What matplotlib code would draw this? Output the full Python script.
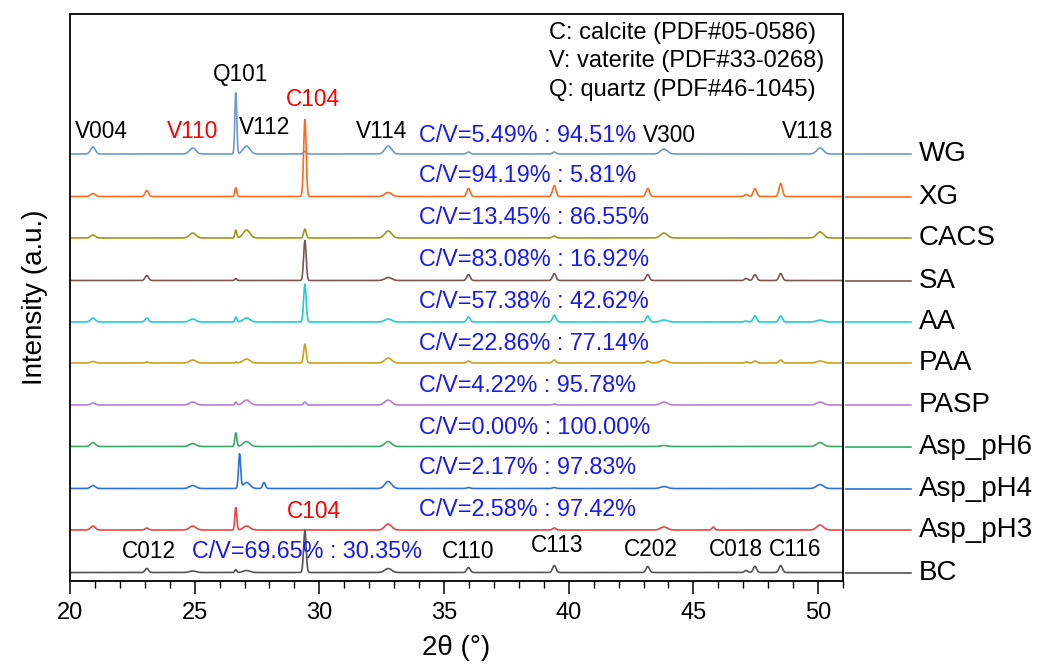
import numpy as np
import matplotlib
matplotlib.use("Agg")
import matplotlib.pyplot as plt
import matplotlib.transforms as mtransforms

plt.rcParams['font.family'] = ['Liberation Sans', 'DejaVu Sans']

# ---------------- data ----------------
series_names = ["WG", "XG", "CACS", "SA", "AA", "PAA", "PASP",
                "Asp_pH6", "Asp_pH4", "Asp_pH3", "BC"]
series_colors = ["#6C9AD0", "#FF6B1A", "#9A9A1A", "#7D5555", "#1FCFCF",
                 "#CDA020", "#B57EDC", "#3AAA6A", "#2E73D9", "#EE4444", "#555555"]
# vertical offsets of each pattern (a.u.)
series_offsets = [427, 384.5, 343, 300.5, 259, 218, 176, 134.5, 92.5, 51, 8.5]

# reflections (2theta, degrees) and their peak widths (FWHM, degrees)
refl_pos = [20.92, 23.08, 24.92, 26.65, 26.80, 27.08, 27.78, 29.42, 32.76,
            35.98, 39.42, 43.17, 43.82, 45.80, 47.12, 47.47, 48.50, 50.08]
refl_fwhm = [0.22, 0.16, 0.30, 0.09, 0.10, 0.32, 0.13, 0.12, 0.32,
             0.16, 0.16, 0.16, 0.32, 0.13, 0.16, 0.16, 0.16, 0.32]

# peak heights (a.u.) per series, aligned with refl_pos
h_WG   = [7, 0, 6, 63, 0, 8, 0, 3, 8, 2, 2, 0, 5, 0, 0, 0, 0, 6]
h_XG   = [3, 6, 0, 9, 0, 0, 0, 77, 4, 8, 11, 8, 0, 0, 2, 8, 13, 0]
h_CACS = [3, 0, 5, 8, 0, 8, 0, 9, 7, 0, 2, 0, 5, 0, 0, 0, 0, 6]
h_SA   = [0, 5, 0, 2, 0, 0, 0, 40, 3, 6, 7, 6, 0, 0, 2, 6, 7, 0]
h_AA   = [4, 4, 3, 5, 0, 4, 0, 38, 3, 5, 7, 6, 2, 0, 1, 6, 6, 2]
h_PAA  = [1.5, 1, 3, 1, 0, 4, 0, 19, 5, 2, 3, 2, 3, 0, 1, 2, 3, 2]
h_PASP = [2, 0, 3, 3, 0, 5, 0, 3, 5, 0, 1, 0, 3, 0, 0, 0, 0, 3]
h_pH6  = [4, 0, 3, 14, 0, 5, 0, 0, 5, 0, 0, 0, 1, 0, 0, 0, 0, 4]
h_pH4  = [3, 0, 3, 0, 34, 6, 6, 0, 7, 1, 1, 0, 2, 0, 0, 0, 0, 4]
h_pH3  = [4, 2, 4, 23, 0, 4, 0, 0, 6, 0, 2, 0, 3, 3, 0, 0, 0, 5]
h_BC   = [0, 4, 1.5, 3, 0, 2, 0, 42, 4, 5, 7, 6, 0, 0, 2, 6, 7, 0]
series_heights = [h_WG, h_XG, h_CACS, h_SA, h_AA, h_PAA, h_PASP,
                  h_pH6, h_pH4, h_pH3, h_BC]

ratio_labels = ["C/V=5.49% : 94.51%", "C/V=94.19% : 5.81%", "C/V=13.45% : 86.55%",
                "C/V=83.08% : 16.92%", "C/V=57.38% : 42.62%", "C/V=22.86% : 77.14%",
                "C/V=4.22% : 95.78%", "C/V=0.00% : 100.00%", "C/V=2.17% : 97.83%",
                "C/V=2.58% : 97.42%", "C/V=69.65% : 30.35%"]

top_peak_labels = ["V004", "V110", "Q101", "V112", "C104", "V114", "V300", "V118"]
bottom_peak_labels = ["C012", "C104", "C110", "C113", "C202", "C018", "C116"]
note_lines = ["C: calcite (PDF#05-0586)", "V: vaterite (PDF#33-0268)",
              "Q: quartz (PDF#46-1045)"]
x_ticks = [20, 25, 30, 35, 40, 45, 50]

# ---------------- figure ----------------
W, H = 1040, 669
fig = plt.figure(figsize=(W / 100, H / 100), dpi=100)
ax_l, ax_r, ax_t, ax_b = 70, 843, 14, 581
ax = fig.add_axes([ax_l / W, 1 - ax_b / H, (ax_r - ax_l) / W, (ax_b - ax_t) / H])

two_theta = np.arange(20.0, 51.0001, 0.02)
pos = np.array(refl_pos)
sig = np.array(refl_fwhm) / 2.3548
for name, col, off, hts in zip(series_names, series_colors, series_offsets, series_heights):
    hts = np.array(hts, dtype=float)
    prof = (hts[None, :] * np.exp(-0.5 * ((two_theta[:, None] - pos[None, :]) / sig[None, :]) ** 2)).sum(axis=1)
    ax.plot(two_theta, prof + off, color=col, lw=1.2)

ax.set_xlim(20, 51)
ax.set_ylim(0, ax_b - ax_t)
ax.set_yticks([])
ax.set_xticks(x_ticks)
ax.set_xticks(np.arange(20, 52, 1), minor=True)
ax.tick_params(axis='x', which='major', direction='out', length=9, width=1.1,
               labelsize=17, pad=6)
ax.tick_params(axis='x', which='minor', direction='out', length=5, width=1.0)
for s in ax.spines.values():
    s.set_linewidth(1.3)
ax.set_xlabel("2θ (°)", fontsize=20, labelpad=8)
ax.set_ylabel("Intensity (a.u.)", fontsize=20, labelpad=16)

# legend-like entries outside the axes, aligned with each pattern baseline
blend = mtransforms.blended_transform_factory(ax.transAxes, ax.transData)
for name, col, off in zip(series_names, series_colors, series_offsets):
    ax.plot([1.004, 1.088], [off, off], color=col, lw=1.2, transform=blend, clip_on=False)
    ax.text(1.098, off, name, transform=blend, fontsize=20, va='center', ha='left')

# annotation helpers (pixel layout -> data coords)
def px2d(px, py):
    return 20 + (px - ax_l) / (ax_r - ax_l) * 31, ax_b - py

# ratio labels
ratio_px = [(419, 135), (419, 175), (419, 217), (419, 259), (419, 301), (419, 343),
            (419, 385), (419, 427), (419, 468), (419, 510), (192, 552)]
for lab, (px, py) in zip(ratio_labels, ratio_px):
    x, y = px2d(px, py)
    ax.text(x, y, lab, color="#1A1AEE", fontsize=16.8, ha='left', va='center')

top_px = [(101, 131), (193, 131), (241, 75), (265, 128), (313, 100), (382, 131),
          (669, 135), (808, 131)]
top_col = ["black", "red", "black", "black", "red", "black", "black", "black"]
for lab, (px, py), c in zip(top_peak_labels, top_px, top_col):
    x, y = px2d(px, py)
    ax.text(x, y, lab, color=c, fontsize=16.3, ha='center', va='center')

bot_px = [(149, 551), (314, 512), (468, 551), (557, 545), (651, 549), (736, 549), (795, 549)]
bot_col = ["black", "red", "black", "black", "black", "black", "black"]
for lab, (px, py), c in zip(bottom_peak_labels, bot_px, bot_col):
    x, y = px2d(px, py)
    ax.text(x, y, lab, color=c, fontsize=16.3, ha='center', va='center')

for i, line in enumerate(note_lines):
    x, y = px2d(549, 33 + i * 28.5)
    ax.text(x, y, line, fontsize=17, ha='left', va='center')

fig.savefig("out.png", dpi=100)
